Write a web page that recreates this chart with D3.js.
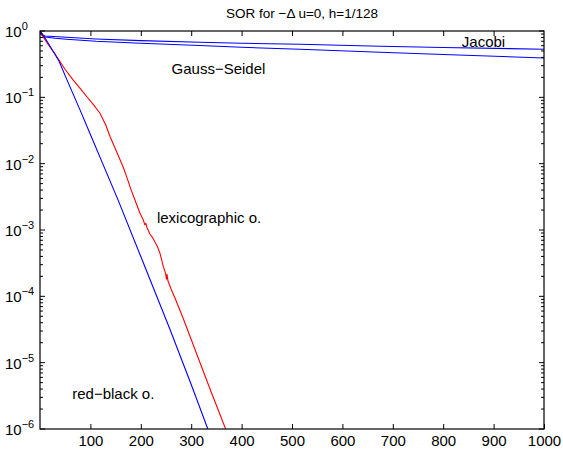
<!DOCTYPE html>
<html>
<head>
<meta charset="utf-8">
<script src="https://cdn.jsdelivr.net/npm/d3@7"></script>
<style>
  html, body { margin: 0; padding: 0; background: #fff; }
  svg { display: block; font-family: "Liberation Sans", Arial, Helvetica, sans-serif; }
</style>
</head>
<body>
<svg id="chart" width="563" height="449"></svg>
<script>
// ---- data ----
const titleText = "SOR for \u2212\u0394 u=0, h=1/128";
const xTicks = [100, 200, 300, 400, 500, 600, 700, 800, 900, 1000];
const yTickExps = [0, -1, -2, -3, -4, -5, -6];

const iterJacobi = [0, 4, 10, 53, 111, 200, 317, 400, 516, 675, 800, 1000];
const resJacobi  = [1, 0.881, 0.841, 0.804, 0.759, 0.716, 0.676, 0.653, 0.631, 0.589, 0.565, 0.530];

const iterGS = [0, 4, 10, 30, 53, 111, 200, 317, 400, 516, 675, 800, 1000];
const resGS  = [1, 0.871, 0.813, 0.776, 0.750, 0.700, 0.653, 0.603, 0.569, 0.530, 0.478, 0.442, 0.392];

const iterRB = [0, 10, 20, 30, 38, 52, 80, 100, 124, 155, 200, 258, 300, 333, 340];
const resRB  = [1, 0.785, 0.589, 0.442, 0.347, 0.195, 0.0631, 0.0275, 0.0102, 2.82e-3, 3.98e-4, 3.16e-5, 4.68e-6, 1.0e-6, 7.2e-7];

const iterLex = [0, 10, 20, 30, 38, 50, 66, 80, 93, 106, 119, 130, 139, 152, 165, 172, 180, 188, 198, 205, 208, 210, 212, 218, 223, 228, 233, 238, 242, 245, 249, 251, 252, 254, 260, 268, 284, 300, 320, 340, 360, 375];
const resLex  = [0.966, 0.741, 0.569, 0.447, 0.363, 0.263, 0.182, 0.135, 0.102, 0.0776, 0.0575, 0.0389, 0.0257, 0.0151, 8.91e-3, 6.31e-3, 4.17e-3, 2.88e-3, 1.82e-3, 1.41e-3, 1.20e-3, 1.26e-3, 1.10e-3, 8.71e-4, 7.76e-4, 6.61e-4, 5.62e-4, 4.47e-4, 3.39e-4, 2.75e-4, 2.24e-4, 1.82e-4, 2.14e-4, 1.70e-4, 1.29e-4, 9.33e-5, 4.68e-5, 2.24e-5, 8.91e-6, 3.55e-6, 1.45e-6, 7.4e-7];

const labels = [
  { text: "Jacobi", it: 837, val: 0.564 },
  { text: "Gauss\u2212Seidel", it: 261, val: 0.225 },
  { text: "lexicographic o.", it: 232, val: 1.27e-3 },
  { text: "red\u2212black o.", it: 64, val: 2.83e-6 }
];

// ---- layout ----
const W = 563, H = 449;
const L = 40, R = 544, T = 31, B = 429;

const svg = d3.select("#chart");
const x = d3.scaleLinear().domain([0, 1000]).range([L, R]);
const y = d3.scaleLog().domain([1e-6, 1]).range([B, T]);

svg.append("rect").attr("width", W).attr("height", H).attr("fill", "#fff");

svg.append("defs").append("clipPath").attr("id", "clip")
  .append("rect").attr("x", L).attr("y", T).attr("width", R - L).attr("height", B - T);

// series
const line = d3.line().x(d => x(d[0])).y(d => y(d[1]));
const series = [
  { it: iterJacobi, v: resJacobi, c: "#0000ff" },
  { it: iterGS, v: resGS, c: "#0000ff" },
  { it: iterLex, v: resLex, c: "#ff0000" },
  { it: iterRB, v: resRB, c: "#0000ff" }
];
const g = svg.append("g").attr("clip-path", "url(#clip)");
series.forEach(s => {
  g.append("path")
    .datum(s.it.map((t, i) => [t, s.v[i]]))
    .attr("d", line)
    .attr("fill", "none")
    .attr("stroke", s.c)
    .attr("stroke-width", 1.1)
    .attr("stroke-linejoin", "round");
});

// axes (MATLAB style: inward ticks, full box)
const axB = d3.axisBottom(x).tickValues(xTicks).tickSizeInner(-5).tickSizeOuter(0).tickPadding(6).tickFormat(d3.format("d"));
const gB = svg.append("g").attr("transform", `translate(0,${B})`).call(axB);
gB.select(".domain").remove();
gB.selectAll("text").attr("font-size", 15).attr("fill", "#000").attr("font-family", "Liberation Sans, Arial, sans-serif");
gB.selectAll("line").attr("stroke", "#000");

const axT = d3.axisTop(x).tickValues(xTicks.filter(v => v < 1000)).tickSizeInner(-5).tickSizeOuter(0).tickFormat("");
const gT = svg.append("g").attr("transform", `translate(0,${T})`).call(axT);
gT.select(".domain").remove();
gT.selectAll("line").attr("stroke", "#000");

// y ticks (major + minor) on left and right
const yMinor = [];
for (let e = -6; e < 0; e++) for (let k = 2; k <= 9; k++) yMinor.push(k * Math.pow(10, e));
const yMajor = yTickExps.map(e => Math.pow(10, e));
const tg = svg.append("g").attr("stroke", "#000").attr("stroke-width", 1);
yMajor.forEach(v => {
  tg.append("line").attr("x1", L).attr("x2", L + 5).attr("y1", y(v)).attr("y2", y(v));
  tg.append("line").attr("x1", R).attr("x2", R - 5).attr("y1", y(v)).attr("y2", y(v));
});
yMinor.forEach(v => {
  tg.append("line").attr("x1", L).attr("x2", L + 3).attr("y1", y(v)).attr("y2", y(v));
  tg.append("line").attr("x1", R).attr("x2", R - 3).attr("y1", y(v)).attr("y2", y(v));
});

// y tick labels 10^e
yTickExps.forEach(e => {
  const t = svg.append("text")
    .attr("x", 5).attr("y", y(Math.pow(10, e)) + 6)
    .attr("font-size", 15).attr("fill", "#000");
  t.append("tspan").text("10");
  t.append("tspan").attr("dy", -7).attr("font-size", 11).text(e === 0 ? "0" : "\u2212" + Math.abs(e));
});

// box
svg.append("rect").attr("x", L).attr("y", T).attr("width", R - L).attr("height", B - T)
  .attr("fill", "none").attr("stroke", "#000").attr("stroke-width", 1.2);

// title
svg.append("text").attr("x", 302).attr("y", 18).attr("text-anchor", "middle")
  .attr("font-size", 13.5).attr("fill", "#000").text(titleText);

// annotations
labels.forEach(l => {
  svg.append("text").attr("x", x(l.it)).attr("y", y(l.val))
    .attr("font-size", 15).attr("fill", "#000").text(l.text);
});
</script>
</body>
</html>
